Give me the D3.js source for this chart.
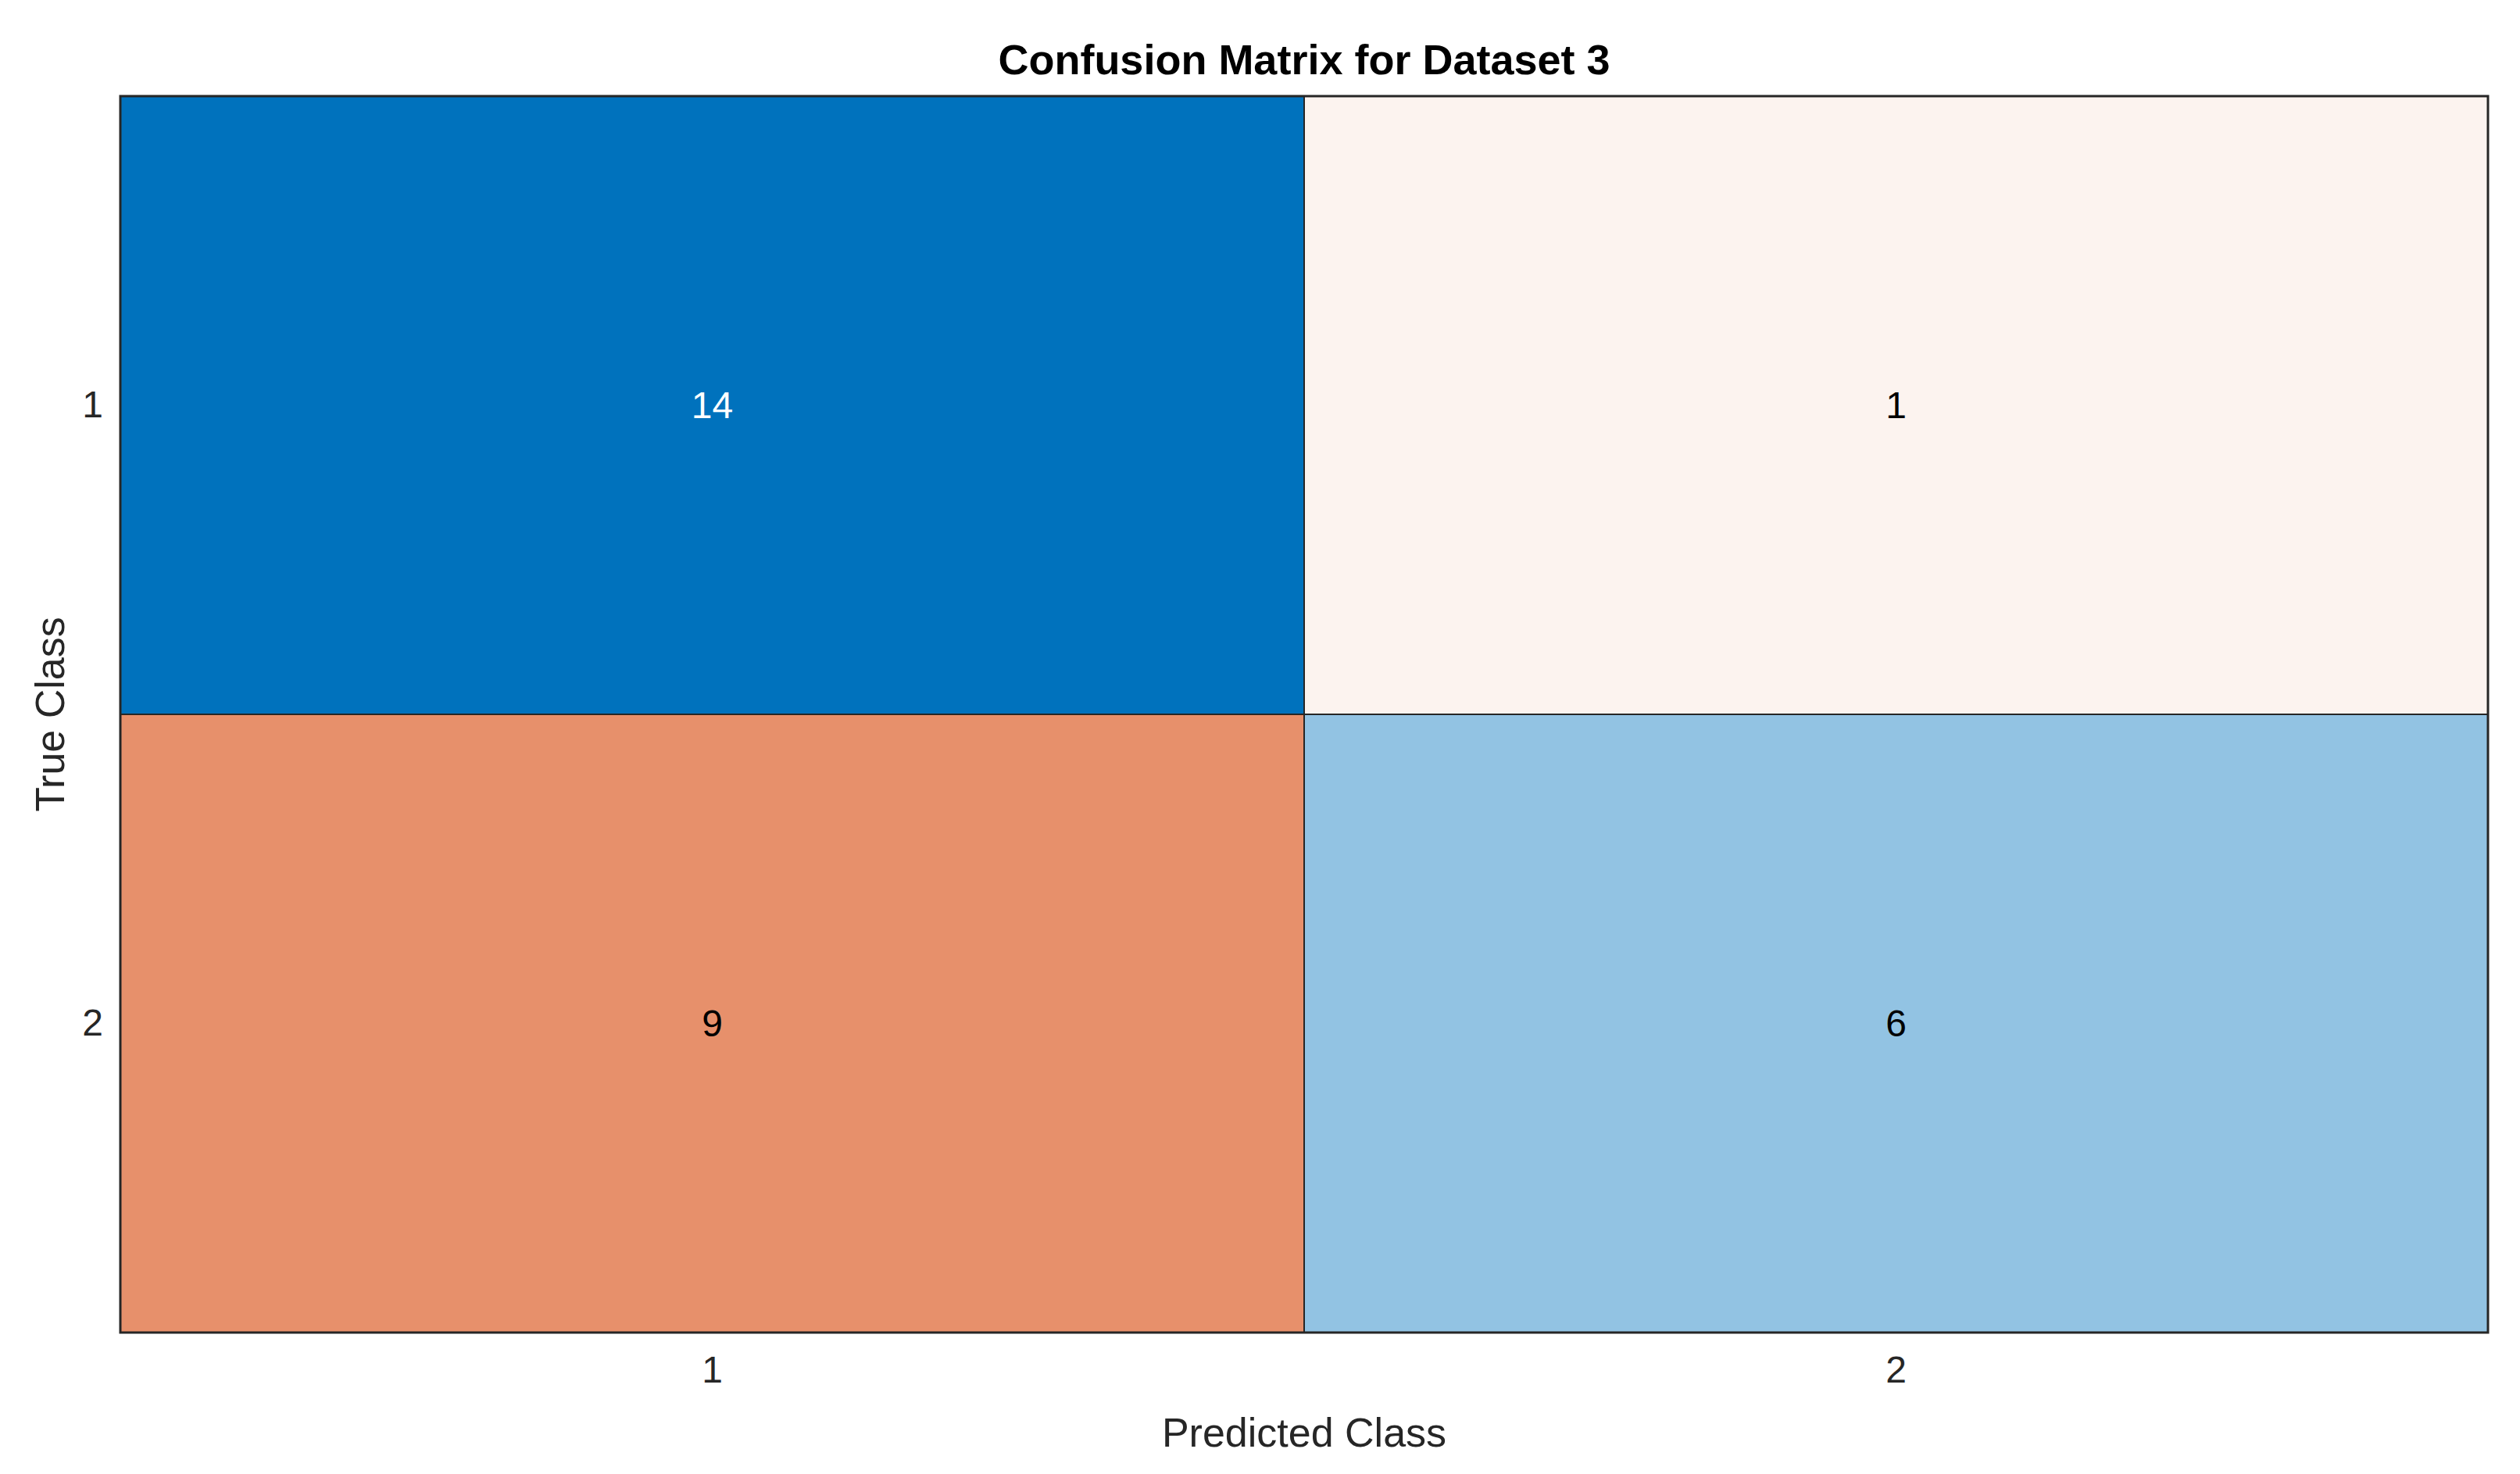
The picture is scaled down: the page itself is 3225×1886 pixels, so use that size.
<!DOCTYPE html>
<html>
<head>
<meta charset="utf-8">
<script src="https://cdn.jsdelivr.net/npm/d3@7"></script>
<style>
body { margin: 0; background: #fff; }
text { font-family: "Liberation Sans", Arial, sans-serif; }
</style>
</head>
<body>
<svg id="chart" width="3225" height="1886"></svg>
<script>
// data
var classes = ['1', '2']
var trueClass = ['1', '1', '2', '2']
var predClass = ['1', '2', '1', '2']
var counts = [14, 1, 9, 6]

var cells = counts.map((c, i) => ({t: trueClass[i], p: predClass[i], v: c}))
var maxV = d3.max(counts)

var margin = {top: 123, left: 154, right: 41, bottom: 181}
var W = 3225, H = 1886
var svg = d3.select('#chart')

var x = d3.scaleBand().domain(classes).range([margin.left, W - margin.right])
var y = d3.scaleBand().domain(classes).range([margin.top, H - margin.bottom])

var diagColor = d3.scaleLinear().domain([0, maxV]).range(['#ffffff', '#0072BD']).interpolate(d3.interpolateRgb)
var offColor = d3.scaleLinear().domain([0, maxV]).range(['#ffffff', '#D95319']).interpolate(d3.interpolateRgb)

function fill(d) { return d.t === d.p ? diagColor(d.v) : offColor(d.v) }

svg.selectAll('rect.cell').data(cells).enter().append('rect')
    .attr('class', 'cell')
    .attr('x', d => x(d.p)).attr('y', d => y(d.t))
    .attr('width', x.bandwidth()).attr('height', y.bandwidth())
    .attr('fill', fill)
    .attr('stroke', '#262626').attr('stroke-width', 2)

svg.selectAll('text.val').data(cells).enter().append('text')
    .attr('class', 'val')
    .attr('x', d => x(d.p) + x.bandwidth() / 2)
    .attr('y', d => y(d.t) + y.bandwidth() / 2)
    .attr('text-anchor', 'middle').attr('dominant-baseline', 'central')
    .attr('font-size', 48)
    .attr('fill', d => (d.t === d.p && d.v / maxV > 0.6) ? '#ffffff' : '#000000')
    .text(d => d.v)

svg.append('rect')
    .attr('x', margin.left).attr('y', margin.top)
    .attr('width', W - margin.left - margin.right).attr('height', H - margin.top - margin.bottom)
    .attr('fill', 'none').attr('stroke', '#262626').attr('stroke-width', 3)

// axes
var xAxis = svg.append('g').attr('transform', `translate(0,${H - margin.bottom})`)
    .call(d3.axisBottom(x).tickSize(0).tickPadding(30))
var yAxis = svg.append('g').attr('transform', `translate(${margin.left},0)`)
    .call(d3.axisLeft(y).tickSize(0).tickPadding(22))
;[xAxis, yAxis].forEach(a => {
    a.select('.domain').remove()
    a.selectAll('text').attr('font-size', 48).attr('fill', '#262626')
        .style('font-family', '"Liberation Sans", Arial, sans-serif')
})

svg.append('text').attr('x', (margin.left + W - margin.right) / 2).attr('y', 76)
    .attr('text-anchor', 'middle').attr('dominant-baseline', 'central')
    .attr('font-size', 54).attr('font-weight', 'bold').attr('fill', '#000')
    .text('Confusion Matrix for Dataset 3')

svg.append('text').attr('x', (margin.left + W - margin.right) / 2).attr('y', 1833)
    .attr('text-anchor', 'middle').attr('dominant-baseline', 'central')
    .attr('font-size', 52).attr('fill', '#262626')
    .text('Predicted Class')

svg.append('text')
    .attr('transform', `translate(64,${(margin.top + H - margin.bottom) / 2}) rotate(-90)`)
    .attr('text-anchor', 'middle').attr('dominant-baseline', 'central')
    .attr('font-size', 52).attr('fill', '#262626')
    .text('True Class')
</script>
</body>
</html>
